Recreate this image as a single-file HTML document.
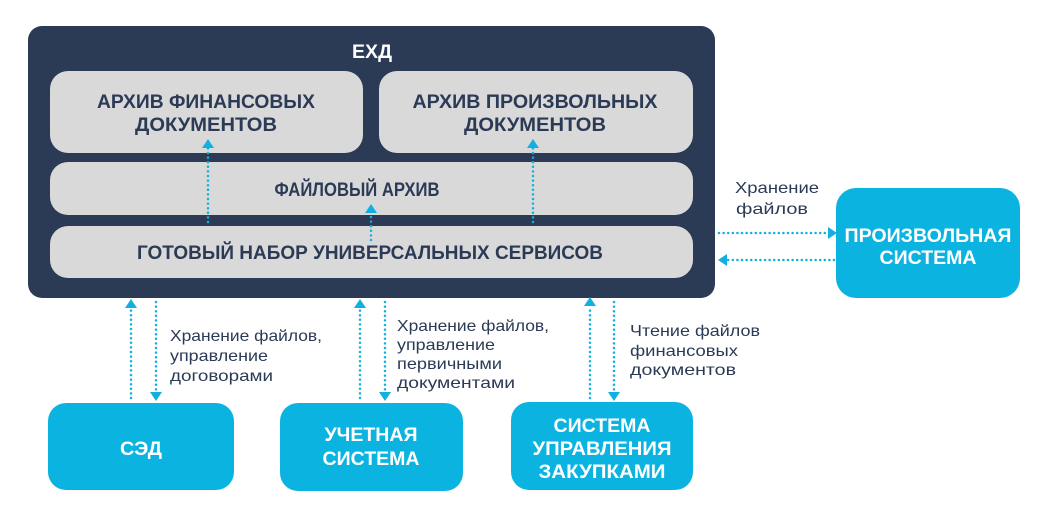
<!DOCTYPE html>
<html><head><meta charset="utf-8"><style>
html,body{margin:0;padding:0;background:#fff;}
svg{display:block;font-family:"Liberation Sans",sans-serif;}
.h{font-weight:bold;font-size:19px;fill:#2b3a55;}
.w{font-weight:bold;font-size:19px;fill:#fff;}
.s{font-size:16px;fill:#2b3a55;}
.d{stroke:#12b0e0;stroke-width:2.5;stroke-linecap:round;stroke-dasharray:0 4.6;fill:none;}
.a{fill:#12b0e0;}
</style></head><body>
<svg width="1042" height="516" viewBox="0 0 1042 516">
<rect x="28" y="26" width="687" height="272" rx="14" fill="#2b3a55"/>
<text class="w" x="372" y="58" text-anchor="middle" textLength="40" lengthAdjust="spacingAndGlyphs">ЕХД</text>
<rect x="50" y="71" width="313" height="82" rx="18" fill="#d9d9d9"/>
<rect x="379" y="71" width="314" height="82" rx="18" fill="#d9d9d9"/>
<rect x="50" y="162" width="643" height="53" rx="18" fill="#d9d9d9"/>
<rect x="50" y="226" width="643" height="52" rx="18" fill="#d9d9d9"/>
<text class="h" x="206" y="108" text-anchor="middle" textLength="218" lengthAdjust="spacingAndGlyphs">АРХИВ ФИНАНСОВЫХ</text>
<text class="h" x="206" y="131" text-anchor="middle" textLength="142" lengthAdjust="spacingAndGlyphs">ДОКУМЕНТОВ</text>
<text class="h" x="535" y="108" text-anchor="middle" textLength="245" lengthAdjust="spacingAndGlyphs">АРХИВ ПРОИЗВОЛЬНЫХ</text>
<text class="h" x="535" y="131" text-anchor="middle" textLength="142" lengthAdjust="spacingAndGlyphs">ДОКУМЕНТОВ</text>
<text class="h" x="357" y="196" text-anchor="middle" textLength="165" lengthAdjust="spacingAndGlyphs">ФАЙЛОВЫЙ АРХИВ</text>
<text class="h" x="370" y="259" text-anchor="middle" textLength="466" lengthAdjust="spacingAndGlyphs">ГОТОВЫЙ НАБОР УНИВЕРСАЛЬНЫХ СЕРВИСОВ</text>
<!-- inner arrows -->
<line class="d" x1="208" y1="222" x2="208" y2="148"/><polygon class="a" points="202,148 214,148 208,139"/>
<line class="d" x1="533" y1="222" x2="533" y2="148"/><polygon class="a" points="527,148 539,148 533,139"/>
<line class="d" x1="371" y1="240" x2="371" y2="213"/><polygon class="a" points="365,213 377,213 371,204"/>
<!-- bottom arrows -->
<line class="d" x1="131" y1="398" x2="131" y2="308"/><polygon class="a" points="125,308 137,308 131,299"/>
<line class="d" x1="156" y1="302" x2="156" y2="392"/><polygon class="a" points="150,392 162,392 156,401"/>
<line class="d" x1="360" y1="398" x2="360" y2="308"/><polygon class="a" points="354,308 366,308 360,299"/>
<line class="d" x1="385" y1="302" x2="385" y2="392"/><polygon class="a" points="379,392 391,392 385,401"/>
<line class="d" x1="590" y1="398" x2="590" y2="306"/><polygon class="a" points="584,306 596,306 590,297"/>
<line class="d" x1="614" y1="302" x2="614" y2="392"/><polygon class="a" points="608,392 620,392 614,401"/>
<!-- right arrows -->
<line class="d" x1="719" y1="233" x2="828" y2="233"/><polygon class="a" points="828,227 828,239 837,233"/>
<line class="d" x1="834" y1="260" x2="727" y2="260"/><polygon class="a" points="727,254 727,266 718,260"/>
<!-- blue boxes -->
<rect x="48" y="403" width="186" height="87" rx="18" fill="#0bb4e0"/>
<rect x="280" y="403" width="183" height="88" rx="18" fill="#0bb4e0"/>
<rect x="511" y="402" width="182" height="88" rx="18" fill="#0bb4e0"/>
<rect x="836" y="188" width="184" height="110" rx="20" fill="#0bb4e0"/>
<text class="w" x="141" y="455" text-anchor="middle" textLength="42" lengthAdjust="spacingAndGlyphs">СЭД</text>
<text class="w" x="371" y="441" text-anchor="middle" textLength="93" lengthAdjust="spacingAndGlyphs">УЧЕТНАЯ</text>
<text class="w" x="371" y="465" text-anchor="middle" textLength="97" lengthAdjust="spacingAndGlyphs">СИСТЕМА</text>
<text class="w" x="602" y="432" text-anchor="middle" textLength="97" lengthAdjust="spacingAndGlyphs">СИСТЕМА</text>
<text class="w" x="602" y="455" text-anchor="middle" textLength="139" lengthAdjust="spacingAndGlyphs">УПРАВЛЕНИЯ</text>
<text class="w" x="602" y="478" text-anchor="middle" textLength="127" lengthAdjust="spacingAndGlyphs">ЗАКУПКАМИ</text>
<text class="w" x="928" y="242" text-anchor="middle" textLength="167" lengthAdjust="spacingAndGlyphs">ПРОИЗВОЛЬНАЯ</text>
<text class="w" x="928" y="264" text-anchor="middle" textLength="97" lengthAdjust="spacingAndGlyphs">СИСТЕМА</text>
<!-- labels -->
<text class="s" x="170" y="341" textLength="152" lengthAdjust="spacingAndGlyphs">Хранение файлов,</text>
<text class="s" x="170" y="361" textLength="98" lengthAdjust="spacingAndGlyphs">управление</text>
<text class="s" x="170" y="381" textLength="103" lengthAdjust="spacingAndGlyphs">договорами</text>
<text class="s" x="397" y="331" textLength="152" lengthAdjust="spacingAndGlyphs">Хранение файлов,</text>
<text class="s" x="397" y="350" textLength="98" lengthAdjust="spacingAndGlyphs">управление</text>
<text class="s" x="397" y="369" textLength="105" lengthAdjust="spacingAndGlyphs">первичными</text>
<text class="s" x="397" y="388" textLength="118" lengthAdjust="spacingAndGlyphs">документами</text>
<text class="s" x="630" y="336" textLength="130" lengthAdjust="spacingAndGlyphs">Чтение файлов</text>
<text class="s" x="630" y="356" textLength="108" lengthAdjust="spacingAndGlyphs">финансовых</text>
<text class="s" x="630" y="375" textLength="106" lengthAdjust="spacingAndGlyphs">документов</text>
<text class="s" x="777" y="193" text-anchor="middle" textLength="84" lengthAdjust="spacingAndGlyphs">Хранение</text>
<text class="s" x="772" y="214" text-anchor="middle" textLength="72" lengthAdjust="spacingAndGlyphs">файлов</text>
</svg>
</body></html>
